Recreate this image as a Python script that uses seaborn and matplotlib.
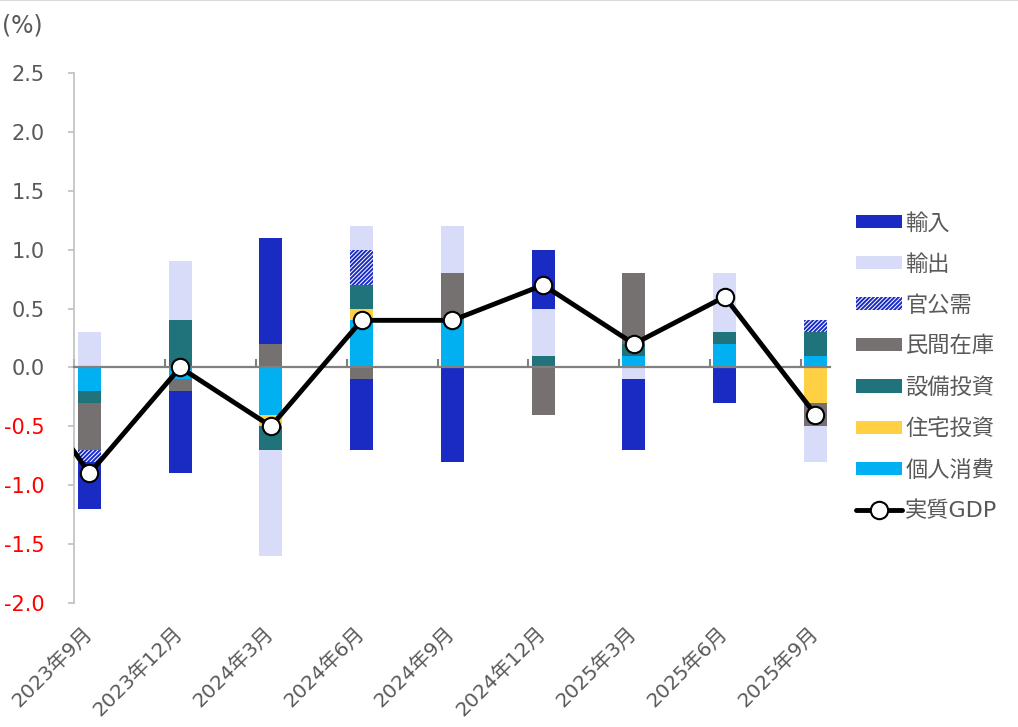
import numpy as np
import matplotlib.pyplot as plt
import seaborn as sns
import pandas as pd
from matplotlib.lines import Line2D

# Real GDP growth (q/q, %) and contributions by component
quarters = ['2023年9月', '2023年12月', '2024年3月', '2024年6月', '2024年9月',
            '2024年12月', '2025年3月', '2025年6月', '2025年9月']

consumption = [-0.2, -0.1, -0.4, 0.4, 0.4, 0.0, 0.1, 0.2, 0.1]
housing = [0.0, 0.0, -0.1, 0.1, 0.0, 0.0, 0.0, 0.0, -0.3]
capex = [-0.1, 0.4, -0.2, 0.2, 0.0, 0.1, 0.1, 0.1, 0.2]
inventory = [-0.4, -0.1, 0.2, -0.1, 0.4, -0.4, 0.6, 0.0, -0.2]
government = [-0.1, 0.0, 0.0, 0.3, 0.0, 0.0, 0.0, 0.0, 0.1]
exports = [0.3, 0.5, -0.9, 0.2, 0.4, 0.4, -0.1, 0.5, -0.3]
imports = [-0.4, -0.7, 0.9, -0.6, -0.8, 0.5, -0.6, -0.3, 0.0]

gdp = [-0.9, 0.0, -0.5, 0.4, 0.4, 0.7, 0.2, 0.6, -0.4]
gdp_prev = 0.2  # 2023年6月, only the segment running into the chart shows

# stacked outward from zero in this order
components = [
    ('個人消費', consumption, '#00B0F0', None),
    ('住宅投資', housing, '#FFD043', None),
    ('設備投資', capex, '#20737A', None),
    ('民間在庫', inventory, '#767171', None),
    ('官公需', government, 'white', '////////'),
    ('輸出', exports, '#D9DCF8', None),
    ('輸入', imports, '#1A2BC4', None),
]

sns.set_theme(style='white')
plt.rcParams['font.family'] = ['DejaVu Sans', 'Noto Sans CJK JP']
plt.rcParams['hatch.linewidth'] = 1.4

grey_text = '#595959'

fig = plt.figure(figsize=(10.18, 7.27), dpi=100)
ax = fig.add_axes([73.5 / 1018, 1 - 603 / 727, (830 - 73.5) / 1018, (603 - 73) / 727])

x = np.arange(len(quarters))
pos_bottom = np.zeros(len(quarters))
neg_bottom = np.zeros(len(quarters))
handles = {}
for name, vals, color, hatch in components:
    vals = np.array(vals)
    bottom = np.where(vals >= 0, pos_bottom, neg_bottom)
    if hatch:
        bars = ax.bar(x, vals, width=0.253, bottom=bottom, color='white',
                      edgecolor='#1A2BC4', hatch=hatch, linewidth=0, zorder=2)
    else:
        bars = ax.bar(x, vals, width=0.253, bottom=bottom, color=color,
                      linewidth=0, zorder=2)
    handles[name] = bars
    pos_bottom += np.where(vals > 0, vals, 0)
    neg_bottom += np.where(vals < 0, vals, 0)

line_df = pd.DataFrame({'x': np.concatenate([[-1], x]), 'gdp': [gdp_prev] + gdp})
sns.lineplot(data=line_df, x='x', y='gdp', ax=ax, color='black', linewidth=3.5,
             marker='o', markersize=12.5, markerfacecolor='white',
             markeredgecolor='black', markeredgewidth=1.5, zorder=5,
             label='実質GDP')
gdp_handle = ax.get_lines()[-1]

ax.set_xlim(-0.176, 8.16)
ax.set_ylim(-2.0, 2.5)
ax.set_xlabel('')
ax.set_ylabel('')

# y axis
yt = np.arange(-2.0, 2.51, 0.5)
ax.set_yticks(yt, [f'{v:.1f}' for v in yt])
for lab, v in zip(ax.get_yticklabels(), yt):
    lab.set_color('red' if v < 0 else grey_text)
ax.tick_params(axis='y', left=True, direction='out', length=4.5, width=1.2,
               color='#BFBFBF', pad=16, labelsize=15)
ax.spines['left'].set_color('#BFBFBF')
ax.spines['left'].set_linewidth(1.2)
ax.spines['top'].set_visible(False)
ax.spines['right'].set_visible(False)

# category axis crossing at zero
ax.spines['bottom'].set_position(('data', 0))
ax.spines['bottom'].set_color('#808080')
ax.spines['bottom'].set_linewidth(1.6)
ax.set_xticks(x - 0.165, [''] * len(x))
ax.tick_params(axis='x', bottom=True, direction='in', length=5.5, width=1.5,
               color='#808080')

sec = ax.secondary_xaxis('bottom')
sec.set_xticks(x, quarters, rotation=45, ha='right', va='center',
               rotation_mode='anchor')
sec.tick_params(length=0, pad=20, labelsize=14.5, labelcolor=grey_text)
sec.spines['bottom'].set_visible(False)

# legend
order = ['輸入', '輸出', '官公需', '民間在庫', '設備投資', '住宅投資', '個人消費']
leg = ax.legend([handles[n] for n in order] + [gdp_handle], order + ['実質GDP'],
                loc='center left', bbox_to_anchor=(856 / 1018, 1 - 367 / 727),
                bbox_transform=fig.transFigure, frameon=False, borderpad=0,
                borderaxespad=0, handlelength=2.07, handleheight=0.54,
                handletextpad=0.15, labelspacing=0.92, fontsize=16,
                labelcolor=grey_text)

fig.text(0.002, 1 - 26 / 727, '(%)', ha='left', va='center', fontsize=17,
         color=grey_text)
fig.add_artist(Line2D([0, 1], [1, 1], transform=fig.transFigure,
                      color='#D9D9D9', linewidth=1.5))

fig.savefig('out.png', dpi=100)
